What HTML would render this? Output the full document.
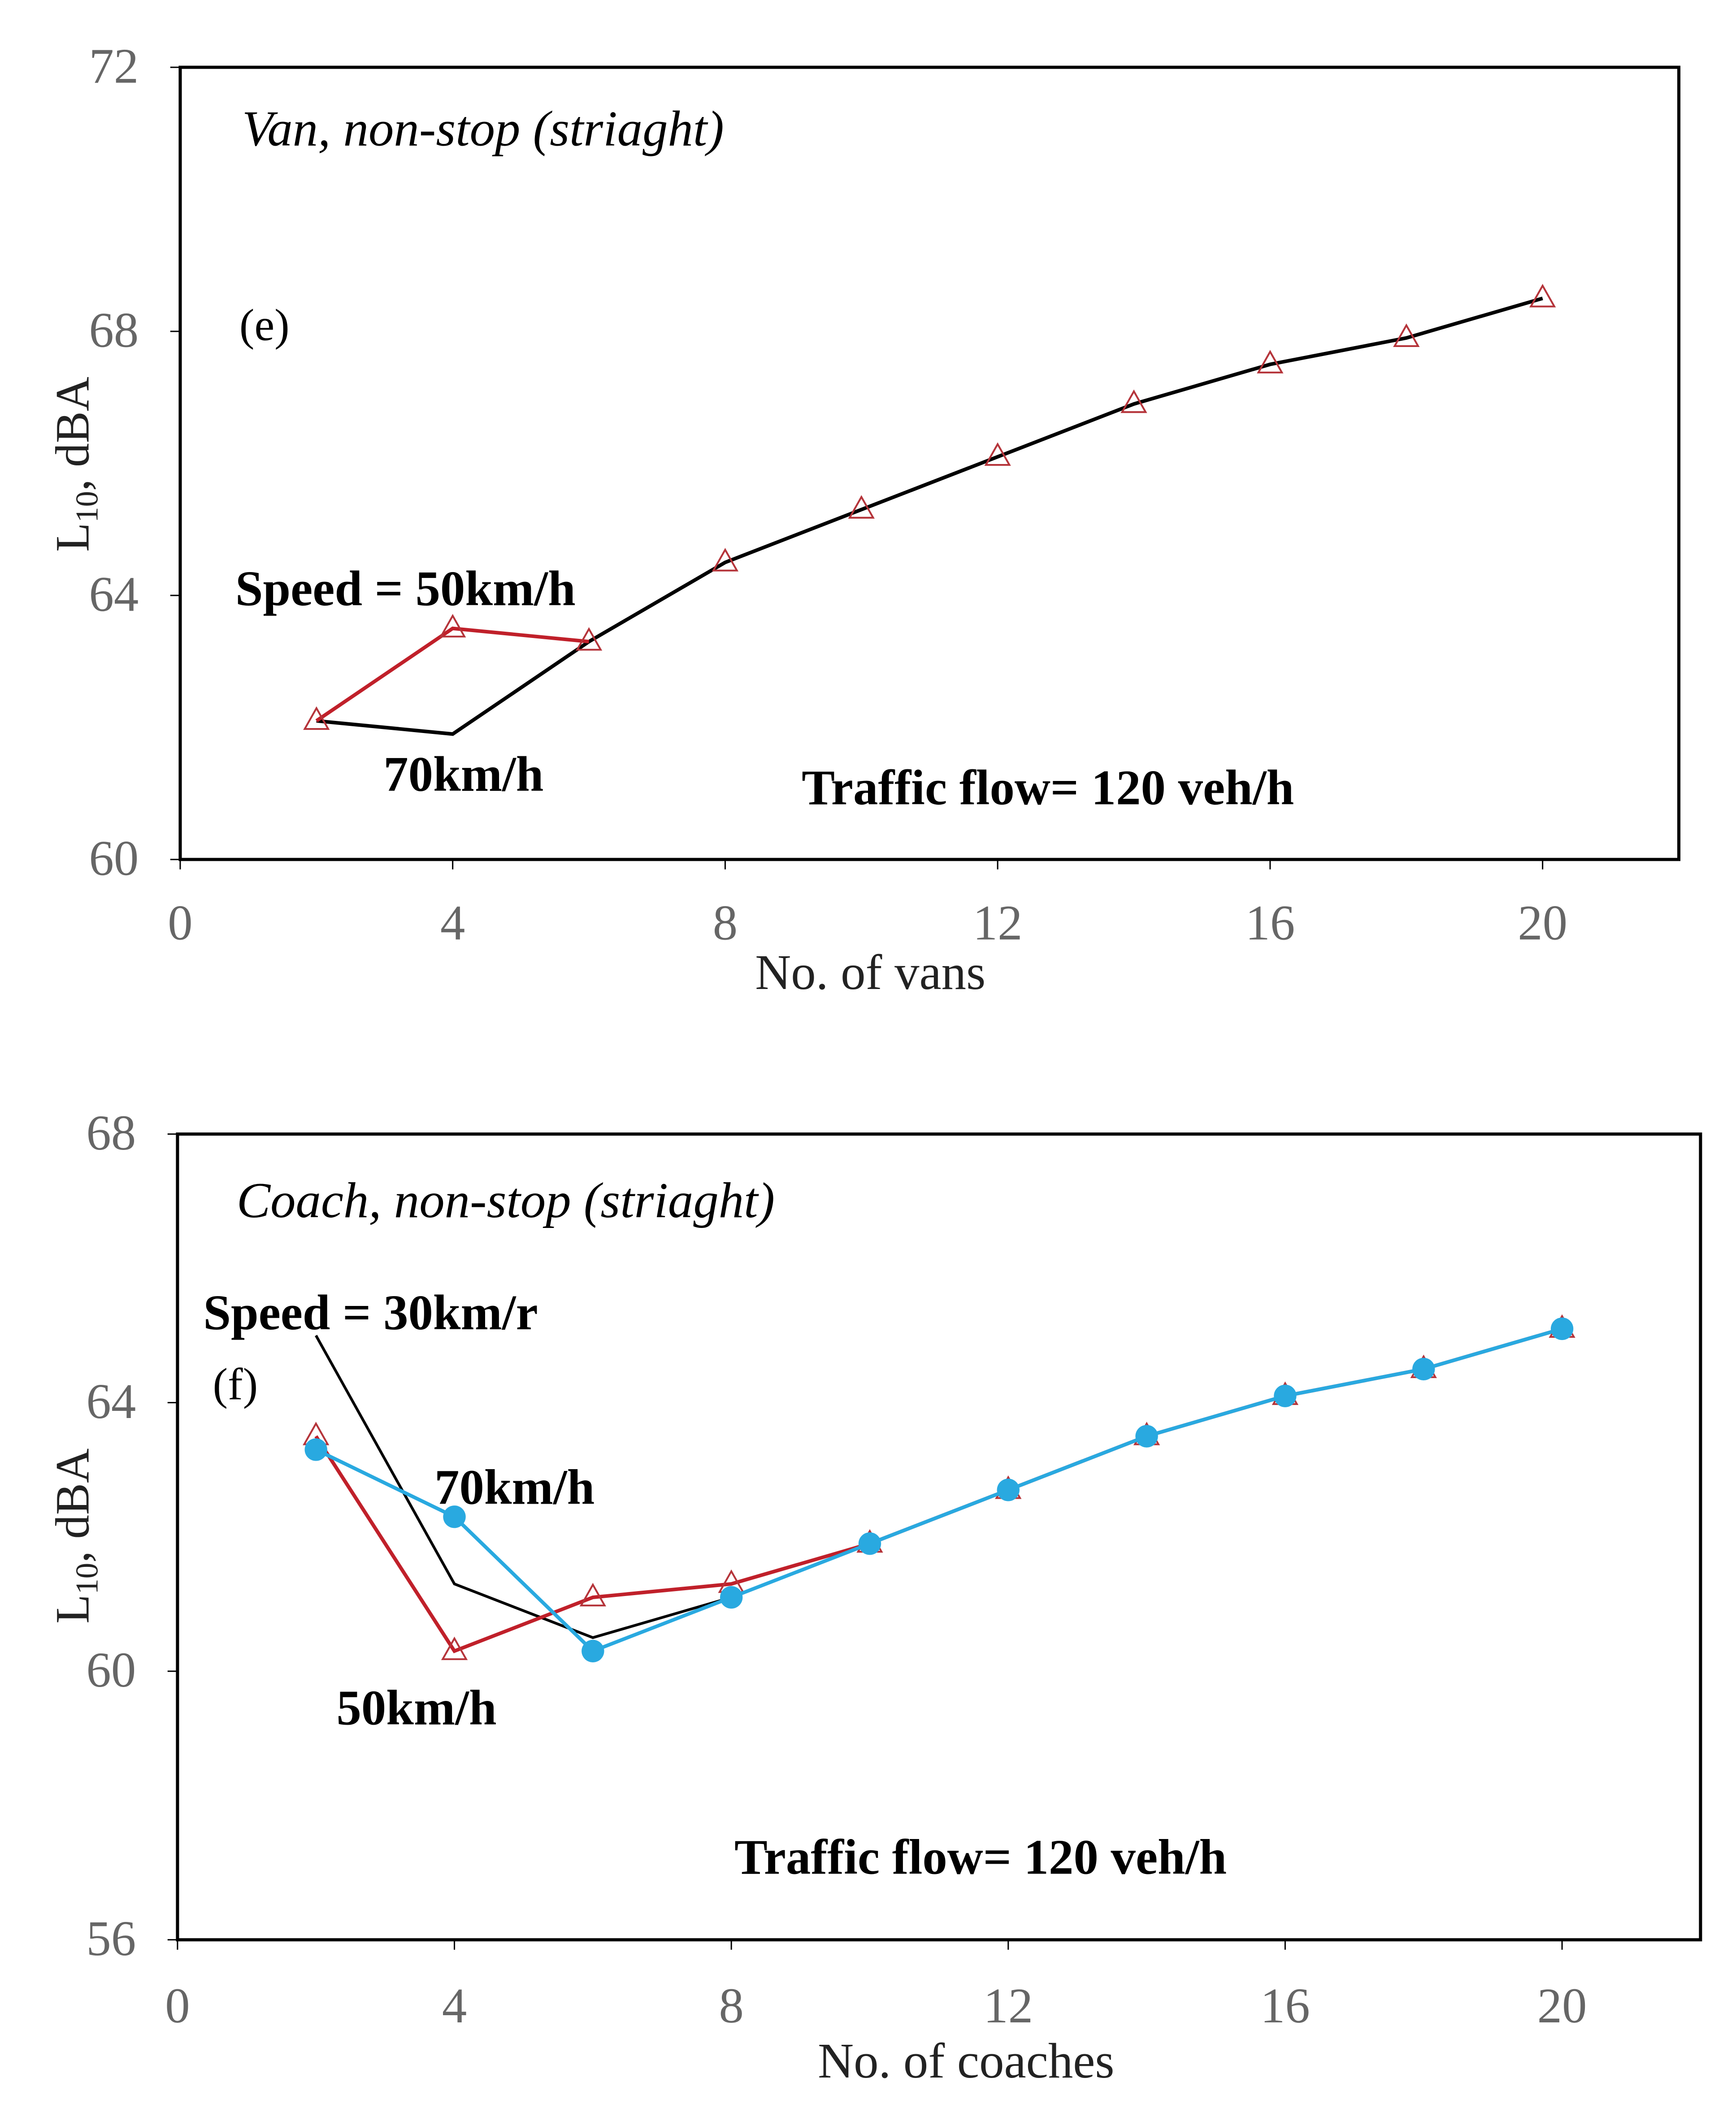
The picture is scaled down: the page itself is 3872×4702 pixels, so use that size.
<!DOCTYPE html>
<html><head><meta charset="utf-8"><style>body{margin:0;background:#fff}svg{display:block}text{font-family:"Liberation Serif",serif}</style></head>
<body>
<svg width="3872" height="4702" viewBox="0 0 3872 4702" xmlns="http://www.w3.org/2000/svg"><g id="c" transform="scale(1.0074)"></g></svg>
<script>
const xTicks=[0,4,8,12,16,20];
const xCats=[2,4,6,8,10,12,14,16,18,20];
const eTicks=[60,64,68,72];
const e50=[62.1,63.5,63.3,64.5,65.3,66.1,66.9,67.5,67.9,68.5];
const e70=[62.1,61.9,63.3,64.5,65.3,66.1,66.9,67.5,67.9,68.5];
const fTicks=[56,60,64,68];
const f30=[65.0,61.3,60.5,61.1,61.9,62.7,63.5,64.1,64.5,65.1];
const f50=[63.5,60.3,61.1,61.3,61.9,62.7,63.5,64.1,64.5,65.1];
const f70=[63.3,62.3,60.3,61.1,61.9,62.7,63.5,64.1,64.5,65.1];
const S=document.getElementById('c');const NS='http://www.w3.org/2000/svg';
function el(t,a,txt){const e=document.createElementNS(NS,t);for(const k in a)e.setAttribute(k,a[k]);if(txt!==undefined)e.textContent=txt;S.appendChild(e);return e;}
function panel(p){
 const X=v=>p.l+(p.r-p.l)*v/22, Y=v=>p.b-(p.b-p.t)*(v-p.y0)/(p.y1-p.y0);
 let e=el('rect',{x:p.l,y:p.t,width:p.r-p.l,height:p.b-p.t,fill:'none',stroke:'#000','stroke-width':7});
 
 
 p.yt.forEach(v=>{
  let t=el('line',{x1:p.l-22,x2:p.l,y1:Y(v),y2:Y(v),stroke:'#000','stroke-width':3});
  
  
  let l=el('text',{x:p.l-92,y:Y(v)+34,'text-anchor':'end','font-size':110,fill:'#666'},v);
  
  
 });
 xTicks.forEach(v=>{
  let t=el('line',{x1:X(v),x2:X(v),y1:p.b,y2:p.b+22,stroke:'#000','stroke-width':3});
  
  
  let l=el('text',{x:X(v),y:p.xly,'text-anchor':'middle','font-size':110,fill:'#666'},v);
  
  
 });
 let xt=el('text',{x:p.xtx,y:p.xty,'text-anchor':'middle','font-size':110,fill:'#222'},p.xtitle);
 
 
 let yt=el('text',{transform:`translate(196,${p.ytc}) rotate(-90)`,'text-anchor':'middle','font-size':106,fill:'#222'});
 
 
 yt.innerHTML='L<tspan font-size="70" dy="20">10</tspan><tspan dy="-20">, dBA</tspan>';
 p.series.forEach(s=>{
  const pts=s.d.map((v,i)=>X(xCats[i])+','+Y(v)).join(' ');
  let pl=el('polyline',{points:pts,fill:'none',stroke:s.c,'stroke-width':s.w||8});
  
  
  if(s.m) s.d.forEach((v,i)=>{
   const x=X(xCats[i]),y=Y(v);let m;
   if(s.m==='tri'){m=el('polygon',{points:`${x},${y-28} ${x-26},${y+18} ${x+26},${y+18}`,fill:'#fff','fill-opacity':0,stroke:'#b5343a','stroke-width':4});}
   else {m=el('circle',{cx:x,cy:y,r:25,fill:'#29a9e0'});}
   
   
  });
 });
 p.labels.forEach(a=>{
  let t=el('text',{x:a[0],y:a[1],'font-size':a[3],'font-weight':a[4],'font-style':a[5],fill:'#000'},a[2]);
  
  
 });
}
panel({id:'van',l:399,r:3717,t:149,b:1903,y0:60,y1:72,yt:eTicks,xly:2080,xtx:1927,xty:2190,ytc:1028,xtitle:'No. of vans',
 series:[{n:'van-70kmh',d:e70,c:'#000'},{n:'van-50kmh',d:e50.slice(0,3),c:'#c0202a'},{n:'van-50kmh-markers',d:e50,c:'none',m:'tri'}],
 labels:[[536,322,'Van, non-stop (striaght)',112,'normal','italic','van-panel-title'],[530,753,'(e)',100,'normal','normal','panel-e-label'],
 [521,1340,'Speed = 50km/h',110,'bold','normal','speed-50-label'],[849,1751,'70km/h',110,'bold','normal','speed-70-label'],[1775,1781,'Traffic flow= 120 veh/h',110,'bold','normal','traffic-flow-label']]});
panel({id:'coach',l:393,r:3765,t:2511,b:4295,y0:56,y1:68,yt:fTicks,xly:4478,xtx:2139,xty:4600,ytc:3401,xtitle:'No. of coaches',
 series:[{n:'coach-30kmh',d:f30,c:'#000',w:6},{n:'coach-50kmh',d:f50,c:'#c0202a',m:'tri'},{n:'coach-70kmh',d:f70,c:'#29a9e0',m:'circ'}],
 labels:[[524,2695,'Coach, non-stop (striaght)',112,'normal','italic','coach-panel-title'],[450,2943,'Speed = 30km/r',110,'bold','normal','speed-30-label'],
 [471,3098,'(f)',100,'normal','normal','panel-f-label'],[962,3330,'70km/h',110,'bold','normal','speed-70-label'],[745,3818,'50km/h',110,'bold','normal','speed-50-label'],
 [1626,4149,'Traffic flow= 120 veh/h',110,'bold','normal','traffic-flow-label']]});
</script>
</body></html>
